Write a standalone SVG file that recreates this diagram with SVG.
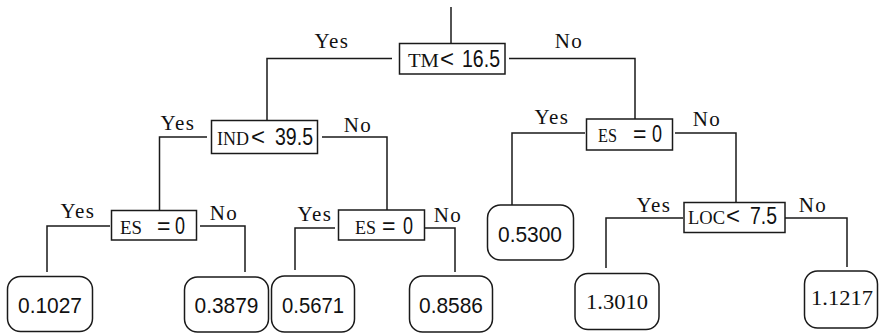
<svg xmlns="http://www.w3.org/2000/svg" width="880" height="334" viewBox="0 0 880 334">
<style>
.ln{stroke:#1a1a1a;stroke-width:1.5;fill:none}
.box{fill:#fff;stroke:#1a1a1a;stroke-width:1.5}
.leaf{fill:#fff;stroke:#1a1a1a;stroke-width:1.5}
.lbl{font-family:"Liberation Serif",serif;font-size:21px;letter-spacing:1.5px;fill:#111;text-anchor:middle}
.sc{font-family:"Liberation Serif",serif;font-size:18px;fill:#111}
.cs{font-family:"Liberation Sans",sans-serif;font-size:23px;fill:#111}
.val{font-family:"Liberation Sans",sans-serif;font-size:22px;fill:#111;text-anchor:middle}
.vals{font-family:"Liberation Serif",serif;font-size:22px;fill:#111;text-anchor:middle}
</style>
<g id="connectors" class="ln">
<path d="M451 7V43.5"/>
<path d="M392 58.5H267V120.5"/>
<path d="M509 58.5H635V119"/>
<path d="M207 137H159.5V210.5"/>
<path d="M322 137H387V210"/>
<path d="M585 133H512V205"/>
<path d="M675 133H736V202.5"/>
<path d="M110 226H47V272"/>
<path d="M200 226H245V272"/>
<path d="M335 228H295V270"/>
<path d="M425 228H455V272"/>
<path d="M683 218H606V268"/>
<path d="M785 218H847V267"/>
</g>
<g id="labels">
<text class="lbl" x="332" y="48">Yes</text>
<text class="lbl" x="569" y="48">No</text>
<text class="lbl" x="178" y="130">Yes</text>
<text class="lbl" x="358" y="132">No</text>
<text class="lbl" x="552" y="124">Yes</text>
<text class="lbl" x="707" y="126">No</text>
<text class="lbl" x="78" y="218">Yes</text>
<text class="lbl" x="224" y="220">No</text>
<text class="lbl" x="315" y="221">Yes</text>
<text class="lbl" x="448" y="222">No</text>
<text class="lbl" x="654" y="212">Yes</text>
<text class="lbl" x="813" y="212">No</text>
</g>
<g id="n-tm">
<rect class="box" x="399.5" y="43.5" width="105.5" height="30.5"/>
<text y="67"><tspan class="sc" x="408" textLength="31" lengthAdjust="spacingAndGlyphs">TM</tspan><tspan class="cs" x="440" textLength="14" lengthAdjust="spacingAndGlyphs">&lt;</tspan><tspan class="cs" x="462" textLength="38" lengthAdjust="spacingAndGlyphs">16.5</tspan></text>
</g>
<g id="n-ind">
<rect class="box" x="211.5" y="120.5" width="106" height="33"/>
<text y="145"><tspan class="sc" x="217" textLength="32" lengthAdjust="spacingAndGlyphs">IND</tspan><tspan class="cs" x="251" textLength="14" lengthAdjust="spacingAndGlyphs">&lt;</tspan><tspan class="cs" x="275" textLength="38" lengthAdjust="spacingAndGlyphs">39.5</tspan></text>
</g>
<g id="n-es-right">
<rect class="box" x="586.5" y="119" width="86" height="31"/>
<text y="142"><tspan class="sc" x="598" textLength="19" lengthAdjust="spacingAndGlyphs">ES</tspan><tspan class="cs" x="633">=</tspan><tspan class="cs" x="652" textLength="10" lengthAdjust="spacingAndGlyphs">0</tspan></text>
</g>
<g id="n-es-left">
<rect class="box" x="111.5" y="210.5" width="85" height="29.5"/>
<text y="233.5"><tspan class="sc" x="120" textLength="22" lengthAdjust="spacingAndGlyphs">ES</tspan><tspan class="cs" x="157">=</tspan><tspan class="cs" x="175" textLength="10" lengthAdjust="spacingAndGlyphs">0</tspan></text>
</g>
<g id="n-es-mid">
<rect class="box" x="338.5" y="210" width="86" height="30"/>
<text y="233.5"><tspan class="sc" x="355" textLength="21" lengthAdjust="spacingAndGlyphs">ES</tspan><tspan class="cs" x="382">=</tspan><tspan class="cs" x="403" textLength="10" lengthAdjust="spacingAndGlyphs">0</tspan></text>
</g>
<g id="n-loc">
<rect class="box" x="684" y="202.5" width="101" height="30"/>
<text y="224"><tspan class="sc" x="688" textLength="37" lengthAdjust="spacingAndGlyphs">LOC</tspan><tspan class="cs" x="726" textLength="14" lengthAdjust="spacingAndGlyphs">&lt;</tspan><tspan class="cs" x="750" textLength="27" lengthAdjust="spacingAndGlyphs">7.5</tspan></text>
</g>
<g id="leaf-01027">
<rect class="leaf" x="7.5" y="276.5" width="85" height="55" rx="13"/>
<text class="val" x="50" y="313" textLength="64" lengthAdjust="spacingAndGlyphs">0.1027</text>
</g>
<g id="leaf-03879">
<rect class="leaf" x="184.5" y="277" width="84" height="55" rx="13"/>
<text class="val" x="226.5" y="313" textLength="64" lengthAdjust="spacingAndGlyphs">0.3879</text>
</g>
<g id="leaf-05671">
<rect class="leaf" x="271.5" y="276" width="83" height="56" rx="13"/>
<text class="val" x="313" y="313" textLength="62" lengthAdjust="spacingAndGlyphs">0.5671</text>
</g>
<g id="leaf-08586">
<rect class="leaf" x="409.5" y="276" width="83" height="56" rx="13"/>
<text class="val" x="451" y="313" textLength="64" lengthAdjust="spacingAndGlyphs">0.8586</text>
</g>
<g id="leaf-05300">
<rect class="leaf" x="487.5" y="205" width="86" height="55" rx="13"/>
<text class="val" x="530" y="241.5" textLength="64" lengthAdjust="spacingAndGlyphs">0.5300</text>
</g>
<g id="leaf-13010">
<rect class="leaf" x="575" y="273.5" width="84" height="56" rx="13"/>
<text class="vals" x="617" y="309" textLength="62" lengthAdjust="spacingAndGlyphs">1.3010</text>
</g>
<g id="leaf-11217">
<rect class="leaf" x="804.5" y="271" width="73" height="57" rx="13"/>
<text class="vals" x="842" y="305" textLength="62" lengthAdjust="spacingAndGlyphs">1.1217</text>
</g>
</svg>
